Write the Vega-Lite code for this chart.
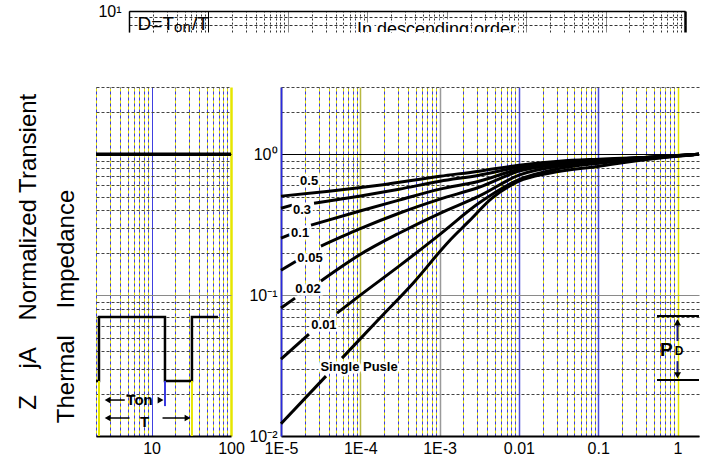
{
  "$schema": "https://vega.github.io/schema/vega-lite/v6.json",
  "padding": {"left": 16, "top": 3, "right": 5, "bottom": 5},
  "background": "white",
  "config": {
    "view": {"stroke": null},
    "font": "Liberation Sans",
    "axis": {"labelFont": "Liberation Sans", "titleFont": "Liberation Sans", "labelColor": "#000", "titleColor": "#000"}
  },
  "datasets": {
    "curves": [
      {"k": "0.5", "t": 0.00001, "z": 0.504}, {"k": "0.5", "t": 0.0000403, "z": 0.547}, {"k": "0.5", "t": 0.000172, "z": 0.603}, {"k": "0.5", "t": 0.00101, "z": 0.698}, {"k": "0.5", "t": 0.00314, "z": 0.758}, {"k": "0.5", "t": 0.01, "z": 0.836}, {"k": "0.5", "t": 0.032, "z": 0.892}, {"k": "0.5", "t": 0.102, "z": 0.922}, {"k": "0.5", "t": 0.437, "z": 0.952}, {"k": "0.5", "t": 1.866, "z": 1.0},
      {"k": "0.3a", "t": 0.00001, "z": 0.414}, {"k": "0.3a", "t": 0.00001376, "z": 0.435},
      {"k": "0.3b", "t": 0.0000261, "z": 0.449}, {"k": "0.3b", "t": 0.0000963, "z": 0.504}, {"k": "0.3b", "t": 0.000308, "z": 0.565}, {"k": "0.3b", "t": 0.00101, "z": 0.643}, {"k": "0.3b", "t": 0.00314, "z": 0.71}, {"k": "0.3b", "t": 0.01, "z": 0.809}, {"k": "0.3b", "t": 0.032, "z": 0.877}, {"k": "0.3b", "t": 0.102, "z": 0.907}, {"k": "0.3b", "t": 0.437, "z": 0.952}, {"k": "0.3b", "t": 1.866, "z": 1.0},
      {"k": "0.1a", "t": 0.00001, "z": 0.254}, {"k": "0.1a", "t": 0.00001337, "z": 0.271},
      {"k": "0.1b", "t": 0.0000239, "z": 0.314}, {"k": "0.1b", "t": 0.0000963, "z": 0.394}, {"k": "0.1b", "t": 0.000308, "z": 0.472}, {"k": "0.1b", "t": 0.00101, "z": 0.565}, {"k": "0.1b", "t": 0.00314, "z": 0.643}, {"k": "0.1b", "t": 0.01, "z": 0.783}, {"k": "0.1b", "t": 0.032, "z": 0.863}, {"k": "0.1b", "t": 0.102, "z": 0.907}, {"k": "0.1b", "t": 0.437, "z": 0.952}, {"k": "0.1b", "t": 1.866, "z": 1.0},
      {"k": "0.05a", "t": 0.00001, "z": 0.15}, {"k": "0.05a", "t": 0.00001546, "z": 0.174},
      {"k": "0.05b", "t": 0.0000319, "z": 0.223}, {"k": "0.05b", "t": 0.0000963, "z": 0.294}, {"k": "0.05b", "t": 0.000308, "z": 0.381}, {"k": "0.05b", "t": 0.00101, "z": 0.48}, {"k": "0.05b", "t": 0.00314, "z": 0.583}, {"k": "0.05b", "t": 0.01, "z": 0.758}, {"k": "0.05b", "t": 0.032, "z": 0.849}, {"k": "0.05b", "t": 0.102, "z": 0.892}, {"k": "0.05b", "t": 0.437, "z": 0.952}, {"k": "0.05b", "t": 1.866, "z": 1.0},
      {"k": "0.02a", "t": 0.00001, "z": 0.081}, {"k": "0.02a", "t": 0.00001502, "z": 0.0952},
      {"k": "0.02b", "t": 0.0000319, "z": 0.126}, {"k": "0.02b", "t": 0.0000963, "z": 0.192}, {"k": "0.02b", "t": 0.000308, "z": 0.275}, {"k": "0.02b", "t": 0.00101, "z": 0.381}, {"k": "0.02b", "t": 0.00314, "z": 0.504}, {"k": "0.02b", "t": 0.01, "z": 0.71}, {"k": "0.02b", "t": 0.032, "z": 0.822}, {"k": "0.02b", "t": 0.102, "z": 0.877}, {"k": "0.02b", "t": 0.437, "z": 0.937}, {"k": "0.02b", "t": 1.866, "z": 1.0},
      {"k": "0.01a", "t": 0.00001, "z": 0.0351}, {"k": "0.01a", "t": 0.0000225, "z": 0.0529},
      {"k": "0.01b", "t": 0.0000508, "z": 0.0745}, {"k": "0.01b", "t": 0.0000963, "z": 0.0984}, {"k": "0.01b", "t": 0.000308, "z": 0.1606}, {"k": "0.01b", "t": 0.00101, "z": 0.27}, {"k": "0.01b", "t": 0.00314, "z": 0.45}, {"k": "0.01b", "t": 0.01, "z": 0.66}, {"k": "0.01b", "t": 0.032, "z": 0.79}, {"k": "0.01b", "t": 0.102, "z": 0.863}, {"k": "0.01b", "t": 0.437, "z": 0.937}, {"k": "0.01b", "t": 1.866, "z": 1.0},
      {"k": "sa", "t": 0.00001, "z": 0.0122}, {"k": "sa", "t": 0.0000369, "z": 0.0266},
      {"k": "sb", "t": 0.0000588, "z": 0.0357}, {"k": "sb", "t": 0.000172, "z": 0.0676}, {"k": "sb", "t": 0.000475, "z": 0.1236}, {"k": "sb", "t": 0.001315, "z": 0.2415}, {"k": "sb", "t": 0.00235, "z": 0.335}, {"k": "sb", "t": 0.00458, "z": 0.488}, {"k": "sb", "t": 0.01, "z": 0.643}, {"k": "sb", "t": 0.024, "z": 0.733}, {"k": "sb", "t": 0.102, "z": 0.822}, {"k": "sb", "t": 0.437, "z": 0.922}, {"k": "sb", "t": 1.866, "z": 1.0}
    ],
    "clabels": [
      {"s": "0.5", "t": 0.0000226, "z": 0.643},
      {"s": "0.3", "t": 0.0000184, "z": 0.401},
      {"s": "0.1", "t": 0.0000174, "z": 0.275},
      {"s": "0.05", "t": 0.0000232, "z": 0.183},
      {"s": "0.02", "t": 0.0000219, "z": 0.11},
      {"s": "0.01", "t": 0.0000348, "z": 0.0613},
      {"s": "Single Pusle", "t": 0.0000964, "z": 0.0309}
    ],
    "pdlines": [{"t": 0.551, "t2": 1.866, "z": 0.071}, {"t": 0.551, "t2": 1.866, "z": 0.025}],
    "pdarrows": [{"t": 1, "z": 0.0472, "z2": 0.066}, {"t": 1, "z": 0.034, "z2": 0.028}],
    "pdup": [{"t": 1, "z": 0.064}],
    "pddown": [{"t": 1, "z": 0.027}],
    "pdP": [{"s": "P", "t": 0.601, "z": 0.0369}],
    "pdD": [{"s": "D", "t": 0.92, "z": 0.0375}],
    "pulse": [
      {"i": 1, "x": 2, "z": 0.0246}, {"i": 2, "x": 2.18, "z": 0.0246}, {"i": 3, "x": 2.18, "z": 0.0698}, {"i": 4, "x": 14.76, "z": 0.0698}, {"i": 5, "x": 14.76, "z": 0.0246}, {"i": 6, "x": 32.25, "z": 0.0246}, {"i": 7, "x": 32.25, "z": 0.0698}, {"i": 8, "x": 68.5, "z": 0.0698}
    ],
    "vmarks": [{"x": 2.18, "z": 0.0246, "z2": 0.01, "kind": "yellow"}, {"x": 32.25, "z": 0.0246, "z2": 0.01, "kind": "yellow"}, {"x": 14.76, "z": 0.0246, "z2": 0.0163, "kind": "blue"}],
    "tarrows": [{"x": 2.8, "x2": 4.6, "z": 0.018}, {"x": 2.8, "x2": 5.28, "z": 0.01342}, {"x": 13.75, "x2": 28.4, "z": 0.01342}],
    "theadsL": [{"x": 2.8, "z": 0.018}, {"x": 2.8, "z": 0.01342}],
    "theadsR": [{"x": 12.98, "z": 0.018}, {"x": 28.4, "z": 0.01342}],
    "ttext": [{"s": "Ton", "x": 7.06, "z": 0.018}, {"s": "T", "x": 8.16, "z": 0.01257}],
    "stripA": [{"s": "D=T", "x": 3.69, "y": 7.33}],
    "stripA2": [{"s": "/T", "x": 6.21, "y": 7.33}],
    "stripB": [{"s": "on", "x": 3.69, "y": 7.08}],
    "stripC": [{"s": "In descending order", "x": 741, "y": 6.76}]
  },
  "bounds": "flush",
  "spacing": 76,
  "vconcat": [
    {
      "bounds": "flush",
      "spacing": 32,
      "hconcat": [
        {"width": 1, "height": 21, "data": {"values": [{"a": 1}]}, "mark": {"type": "point", "opacity": 0}, "encoding": {}},
        {
          "width": 556,
          "height": 21,
          "layer": [
            {
              "data": {"name": "stripA"},
              "mark": {"type": "text", "align": "right", "baseline": "alphabetic", "fontSize": 19, "clip": true, "color": "#000"},
              "encoding": {
                "x": {"field": "x", "type": "quantitative", "scale": {"type": "log", "domain": [1, 10000000], "nice": false},
                  "axis": {"orient": "top", "title": null, "labels": false, "ticks": false, "domain": true, "domainColor": "#000", "domainWidth": 1.5,
                    "values": [1,2,3,4,5,6,7,8,9,10,20,30,40,50,60,70,80,90,100,200,300,400,500,600,700,800,900,1000,2000,3000,4000,5000,6000,7000,8000,9000,10000,20000,30000,40000,50000,60000,70000,80000,90000,100000,200000,300000,400000,500000,600000,700000,800000,900000,1000000,2000000,3000000,4000000,5000000,6000000,7000000,8000000,9000000,10000000],
                    "grid": true,
                    "gridColor": {"condition": [{"test": "datum.value > 9999999 || abs(datum.value-10)<0.001", "value": "#000"}, {"test": "abs(log(datum.value)/LN10 - round(log(datum.value)/LN10)) < 0.001", "value": "#8a8a8a"}], "value": "#333"},
                    "gridDash": {"condition": {"test": "abs(log(datum.value)/LN10 - round(log(datum.value)/LN10)) < 0.001", "value": []}, "value": [2, 2]},
                    "gridWidth": {"condition": {"test": "datum.value > 9999999", "value": 2.5}, "value": 1}
                  }},
                "y": {"field": "y", "type": "quantitative", "scale": {"type": "log", "domain": [7.09, 10], "nice": false, "zero": false},
                  "axis": {"title": null, "values": [8, 9, 10], "labelExpr": "datum.value == 10 ? '10¹' : ''", "labelFontSize": 16, "labelPadding": 8, "labelOverlap": false, "labelFlush": false, "ticks": false, "domain": true, "domainColor": "#000", "domainWidth": 1.5,
                    "grid": true, "gridColor": "#333", "gridDash": [3, 2]}},
                "text": {"field": "s"}
              }
            },
            {
              "data": {"name": "stripA2"},
              "mark": {"type": "text", "align": "left", "baseline": "alphabetic", "fontSize": 19, "clip": true, "color": "#000"},
              "encoding": {
                "x": {"field": "x", "type": "quantitative"},
                "y": {"field": "y", "type": "quantitative"},
                "text": {"field": "s"}
              }
            },
            {
              "data": {"name": "stripB"},
              "mark": {"type": "text", "align": "left", "baseline": "alphabetic", "fontSize": 15, "clip": true, "color": "#000"},
              "encoding": {
                "x": {"field": "x", "type": "quantitative"},
                "y": {"field": "y", "type": "quantitative"},
                "text": {"field": "s"}
              }
            },
            {
              "data": {"name": "stripC"},
              "mark": {"type": "text", "align": "left", "baseline": "alphabetic", "fontSize": 18, "clip": true, "color": "#fff", "stroke": "#fff", "strokeWidth": 5},
              "encoding": {
                "x": {"field": "x", "type": "quantitative"},
                "y": {"field": "y", "type": "quantitative"},
                "text": {"field": "s"}
              }
            },
            {
              "data": {"name": "stripC"},
              "mark": {"type": "text", "align": "left", "baseline": "alphabetic", "fontSize": 18, "clip": true, "color": "#000"},
              "encoding": {
                "x": {"field": "x", "type": "quantitative"},
                "y": {"field": "y", "type": "quantitative"},
                "text": {"field": "s"}
              }
            }
          ]
        }
      ]
    },
    {
      "bounds": "flush",
      "spacing": 50,
      "hconcat": [
        {
          "width": 135,
          "height": 349,
          "resolve": {"axis": {"x": "independent"}},
          "layer": [
            {
              "data": {"name": "pulse"},
              "mark": {"type": "line", "color": "#000", "strokeWidth": 2.5},
              "encoding": {
                "x": {"field": "x", "type": "quantitative", "scale": {"type": "log", "domain": [2, 100], "nice": false},
                  "axis": {"orient": "bottom", "title": null, "values": [2,3,4,5,6,7,8,9,10,20,30,40,50,60,70,80,90,100],
                    "labelExpr": "datum.value == 10 ? '10' : datum.value == 100 ? '100' : ''", "labelFontSize": 16, "labelPadding": 4, "labelOverlap": false, "labelFlush": false,
                    "ticks": false, "domain": true, "domainColor": "#000", "domainWidth": 2,
                    "grid": true,
                    "gridColor": {"condition": {"test": "datum.value == 10", "value": "#4040e0"}, "value": "#e6e600"},
                    "gridWidth": {"condition": {"test": "datum.value == 100", "value": 2.5}, "value": 1}
                  }},
                "y": {"field": "z", "type": "quantitative", "scale": {"type": "log", "domain": [0.01, 3], "nice": false},
                  "axis": {"values": [0.01,0.02,0.03,0.04,0.05,0.06,0.07,0.08,0.09,0.1,0.2,0.3,0.4,0.5,0.6,0.7,0.8,0.9,1,2,3],
                    "labels": false, "ticks": false, "domain": false,
                    "grid": true,
                    "gridColor": {"condition": [{"test": "abs(datum.value-1)<0.0001", "value": "#000"}, {"test": "abs(datum.value-0.1)<0.00001", "value": "#8a8a8a"}], "value": "#444"},
                    "gridDash": {"condition": {"test": "abs(datum.value-1)<0.0001 || abs(datum.value-0.1)<0.00001", "value": []}, "value": [3, 2]},
                    "title": ["\u200b\u00a0\u00a0\u00a0\u00a0Z\u00a0\u00a0\u00a0\u00a0jA\u00a0\u00a0\u00a0\u00a0Normalized Transient", "\u200b\u00a0\u00a0Thermal\u00a0\u00a0\u00a0\u00a0Impedance"],
                    "titleFontSize": 24, "titleFontWeight": "normal", "titleLineHeight": 38, "titleAnchor": "start", "titlePadding": 18
                  }},
                "order": {"field": "i", "type": "quantitative"}
              }
            },
            {
              "data": {"name": "vmarks"},
              "mark": {"type": "rule", "strokeWidth": 2},
              "encoding": {
                "x": {"field": "x", "type": "quantitative", "scale": {"type": "log", "domain": [2, 100], "nice": false},
                  "axis": {"orient": "top", "title": null, "values": [2,3,4,5,6,7,8,9,20,30,40,50,60,70,80,90], "labels": false, "ticks": false, "domain": false,
                    "grid": true, "gridColor": "#3a3ae0", "gridDash": [3, 3]}},
                "y": {"field": "z", "type": "quantitative"},
                "y2": {"field": "z2"},
                "color": {"field": "kind", "type": "nominal", "scale": {"domain": ["yellow", "blue"], "range": ["#e6e600", "#3a3ae0"]}, "legend": null}
              }
            },
            {
              "data": {"values": [{"v": 1}]},
              "mark": {"type": "rule", "color": "#000", "strokeWidth": 3.5},
              "encoding": {"y": {"field": "v", "type": "quantitative"}}
            },
            {
              "data": {"name": "tarrows"},
              "mark": {"type": "rule", "color": "#000", "strokeWidth": 1.5},
              "encoding": {
                "x": {"field": "x", "type": "quantitative", "axis": null},
                "x2": {"field": "x2"},
                "y": {"field": "z", "type": "quantitative"}
              }
            },
            {
              "data": {"name": "theadsL"},
              "mark": {"type": "point", "shape": "triangle-left", "filled": true, "color": "#000", "size": 45, "opacity": 1},
              "encoding": {
                "x": {"field": "x", "type": "quantitative", "axis": null},
                "y": {"field": "z", "type": "quantitative"}
              }
            },
            {
              "data": {"name": "theadsR"},
              "mark": {"type": "point", "shape": "triangle-right", "filled": true, "color": "#000", "size": 45, "opacity": 1},
              "encoding": {
                "x": {"field": "x", "type": "quantitative", "axis": null},
                "y": {"field": "z", "type": "quantitative"}
              }
            },
            {
              "data": {"name": "ttext"},
              "mark": {"type": "text", "fontSize": 15, "fontWeight": "bold", "color": "#000", "align": "center", "baseline": "middle"},
              "encoding": {
                "x": {"field": "x", "type": "quantitative", "axis": null},
                "y": {"field": "z", "type": "quantitative"},
                "text": {"field": "s"}
              }
            }
          ]
        },
        {
          "width": 418,
          "height": 349,
          "resolve": {"axis": {"x": "independent"}},
          "layer": [
            {
              "data": {"name": "curves"},
              "mark": {"type": "line", "color": "#000", "strokeWidth": 3, "interpolate": "monotone"},
              "encoding": {
                "x": {"field": "t", "type": "quantitative", "scale": {"type": "log", "domain": [0.00001, 1.866], "nice": false},
                  "axis": {"orient": "bottom", "title": null,
                    "values": [0.00001,0.00002,0.00003,0.00004,0.00005,0.00006,0.00007,0.00008,0.00009,0.0001,0.0002,0.0003,0.0004,0.0005,0.0006,0.0007,0.0008,0.0009,0.001,0.002,0.003,0.004,0.005,0.006,0.007,0.008,0.009,0.01,0.02,0.03,0.04,0.05,0.06,0.07,0.08,0.09,0.1,0.2,0.3,0.4,0.5,0.6,0.7,0.8,0.9,1],
                    "labelExpr": "abs(datum.value-0.00001)<1e-10 ? '1E-5' : abs(datum.value-0.0001)<1e-9 ? '1E-4' : abs(datum.value-0.001)<1e-8 ? '1E-3' : abs(datum.value-0.01)<1e-7 ? '0.01' : abs(datum.value-0.1)<1e-6 ? '0.1' : abs(datum.value-1)<1e-5 ? '1' : ''",
                    "labelFontSize": 16, "labelPadding": 4, "labelOverlap": false, "labelFlush": false,
                    "ticks": false, "domain": true, "domainColor": "#000", "domainWidth": 2,
                    "grid": true,
                    "gridColor": {"condition": [{"test": "abs(datum.value-0.0001)<1e-9", "value": "#b8b840"}, {"test": "abs(datum.value-0.001)<1e-8", "value": "#9a9a9a"}, {"test": "abs(datum.value-0.01)<1e-7 || abs(datum.value-0.1)<1e-6", "value": "#4b4bd6"}], "value": "#e6e600"},
                    "gridWidth": {"condition": {"test": "abs(log(datum.value)/LN10 - round(log(datum.value)/LN10)) < 0.001", "value": 1.5}, "value": 1}
                  }},
                "y": {"field": "z", "type": "quantitative", "scale": {"type": "log", "domain": [0.01, 3], "nice": false},
                  "axis": {"title": null, "values": [0.01,0.02,0.03,0.04,0.05,0.06,0.07,0.08,0.09,0.1,0.2,0.3,0.4,0.5,0.6,0.7,0.8,0.9,1,2,3],
                    "labelExpr": "abs(datum.value-1)<0.0001 ? '10⁰' : abs(datum.value-0.1)<0.00001 ? '10⁻¹' : abs(datum.value-0.01)<0.000001 ? '10⁻²' : ''",
                    "labelFontSize": 16, "labelPadding": 4, "labelOverlap": false, "labelFlush": false,
                    "ticks": false, "domain": true, "domainColor": "#2a2ae0", "domainWidth": 2,
                    "grid": true,
                    "gridColor": {"condition": [{"test": "abs(datum.value-1)<0.0001", "value": "#000"}, {"test": "abs(datum.value-0.1)<0.00001", "value": "#8a8a8a"}], "value": "#444"},
                    "gridDash": {"condition": {"test": "abs(datum.value-1)<0.0001 || abs(datum.value-0.1)<0.00001", "value": []}, "value": [3, 2]}
                  }},
                "detail": {"field": "k", "type": "nominal"}
              }
            },
            {
              "data": {"name": "clabels"},
              "mark": {"type": "text", "fontSize": 13, "fontWeight": "bold", "color": "#fff", "stroke": "#fff", "strokeWidth": 5, "align": "center", "baseline": "middle"},
              "encoding": {
                "x": {"field": "t", "type": "quantitative", "scale": {"type": "log", "domain": [0.00001, 1.866], "nice": false},
                  "axis": {"orient": "top", "title": null,
                    "values": [0.00002,0.00003,0.00004,0.00005,0.00006,0.00007,0.00008,0.00009,0.0002,0.0003,0.0004,0.0005,0.0006,0.0007,0.0008,0.0009,0.002,0.003,0.004,0.005,0.006,0.007,0.008,0.009,0.02,0.03,0.04,0.05,0.06,0.07,0.08,0.09,0.2,0.3,0.4,0.5,0.6,0.7,0.8,0.9],
                    "labels": false, "ticks": false, "domain": false, "grid": true, "gridColor": "#3a3ae0", "gridDash": [3, 3]}},
                "y": {"field": "z", "type": "quantitative"},
                "text": {"field": "s"}
              }
            },
            {
              "data": {"name": "clabels"},
              "mark": {"type": "text", "fontSize": 13, "fontWeight": "bold", "color": "#000", "align": "center", "baseline": "middle"},
              "encoding": {
                "x": {"field": "t", "type": "quantitative", "axis": null},
                "y": {"field": "z", "type": "quantitative"},
                "text": {"field": "s"}
              }
            },
            {
              "data": {"name": "pdlines"},
              "mark": {"type": "rule", "color": "#000", "strokeWidth": 2},
              "encoding": {
                "x": {"field": "t", "type": "quantitative", "axis": null},
                "x2": {"field": "t2"},
                "y": {"field": "z", "type": "quantitative"}
              }
            },
            {
              "data": {"name": "pdarrows"},
              "mark": {"type": "rule", "color": "#1a1a8a", "strokeWidth": 2},
              "encoding": {
                "x": {"field": "t", "type": "quantitative", "axis": null},
                "y": {"field": "z", "type": "quantitative"},
                "y2": {"field": "z2"}
              }
            },
            {
              "data": {"name": "pdup"},
              "mark": {"type": "point", "shape": "triangle-up", "filled": true, "color": "#000", "size": 50, "opacity": 1},
              "encoding": {
                "x": {"field": "t", "type": "quantitative", "axis": null},
                "y": {"field": "z", "type": "quantitative"}
              }
            },
            {
              "data": {"name": "pddown"},
              "mark": {"type": "point", "shape": "triangle-down", "filled": true, "color": "#000", "size": 50, "opacity": 1},
              "encoding": {
                "x": {"field": "t", "type": "quantitative", "axis": null},
                "y": {"field": "z", "type": "quantitative"}
              }
            },
            {
              "data": {"name": "pdP"},
              "mark": {"type": "text", "fontSize": 19, "fontWeight": "bold", "color": "#000", "align": "left", "baseline": "alphabetic"},
              "encoding": {
                "x": {"field": "t", "type": "quantitative", "axis": null},
                "y": {"field": "z", "type": "quantitative"},
                "text": {"field": "s"}
              }
            },
            {
              "data": {"name": "pdD"},
              "mark": {"type": "text", "fontSize": 12, "fontWeight": "bold", "color": "#000", "align": "left", "baseline": "alphabetic"},
              "encoding": {
                "x": {"field": "t", "type": "quantitative", "axis": null},
                "y": {"field": "z", "type": "quantitative"},
                "text": {"field": "s"}
              }
            }
          ]
        }
      ]
    }
  ]
}
